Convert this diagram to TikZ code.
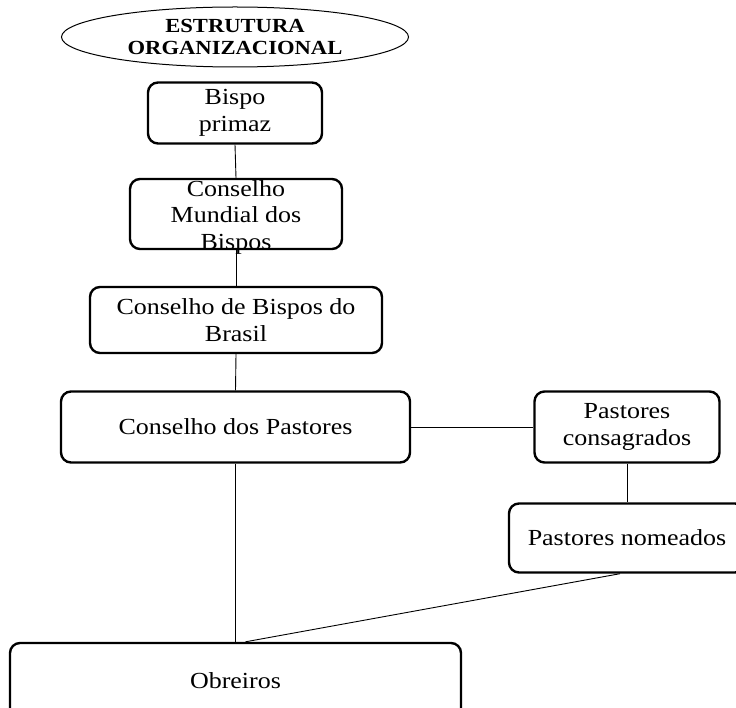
\documentclass[tikz,border=0pt]{standalone}
\usepackage{fontspec}
\setmainfont{Liberation Serif}[FakeStretch=1.13]
\usetikzlibrary{shapes.geometric}

\begin{document}
\begin{tikzpicture}[x=1pt,y=-1pt,
    caixa/.style={draw, line width=2.4pt, rounded corners=10pt, align=center,
        inner sep=0pt, font=\fontsize{23}{26.5}\selectfont},
    texto/.style={align=center, inner sep=0pt, font=\fontsize{23}{26.5}\selectfont},
    liga/.style={line width=0.9pt}]
\useasboundingbox (0,0) rectangle (736,708);
\clip (0,0) rectangle (736,708);
% titulo
\node[draw, ellipse, line width=1pt, minimum width=347pt, minimum height=60pt, inner sep=0pt,
    align=center, font=\fontsize{20}{22}\selectfont\bfseries] (titulo) at (235,37) {ESTRUTURA\\ORGANIZACIONAL};
% caixas
\node[caixa, minimum width=174pt, minimum height=61pt] (bispo) at (235,113) {Bispo\\primaz};
\node[caixa, minimum width=212pt, minimum height=70pt] (mundial) at (236,214) {};
\node[texto] (mundialtxt) at (236,217) {Conselho\\Mundial dos\\Bispos};
\node[caixa, minimum width=292pt, minimum height=66pt] (brasil) at (236,320) {Conselho de Bispos do\\Brasil};
\node[caixa, minimum width=349pt, minimum height=71pt] (pastores) at (235.5,427) {Conselho dos Pastores};
\node[caixa, minimum width=185pt, minimum height=71pt] (consagrados) at (627,427) {Pastores\\consagrados};
\node[caixa, minimum width=236pt, minimum height=69pt] (nomeados) at (627,538) {Pastores nomeados};
\node[caixa, minimum width=451pt, minimum height=76pt] (obreiros) at (235.5,681) {Obreiros};
% ligacoes
\draw[liga] (bispo.south) -- (mundial.north);
\draw[liga] (mundial.south) -- (brasil.north);
\draw[liga] (brasil.south) -- (pastores.north);
\draw[liga] (pastores.south) -- (obreiros.north);
\draw[liga] (pastores.east) -- (consagrados.west);
\draw[liga] (consagrados.south) -- (nomeados.north);
\draw[liga] ([xshift=-7pt]nomeados.south) -- ([xshift=10pt]obreiros.north);
\end{tikzpicture}
\end{document}
